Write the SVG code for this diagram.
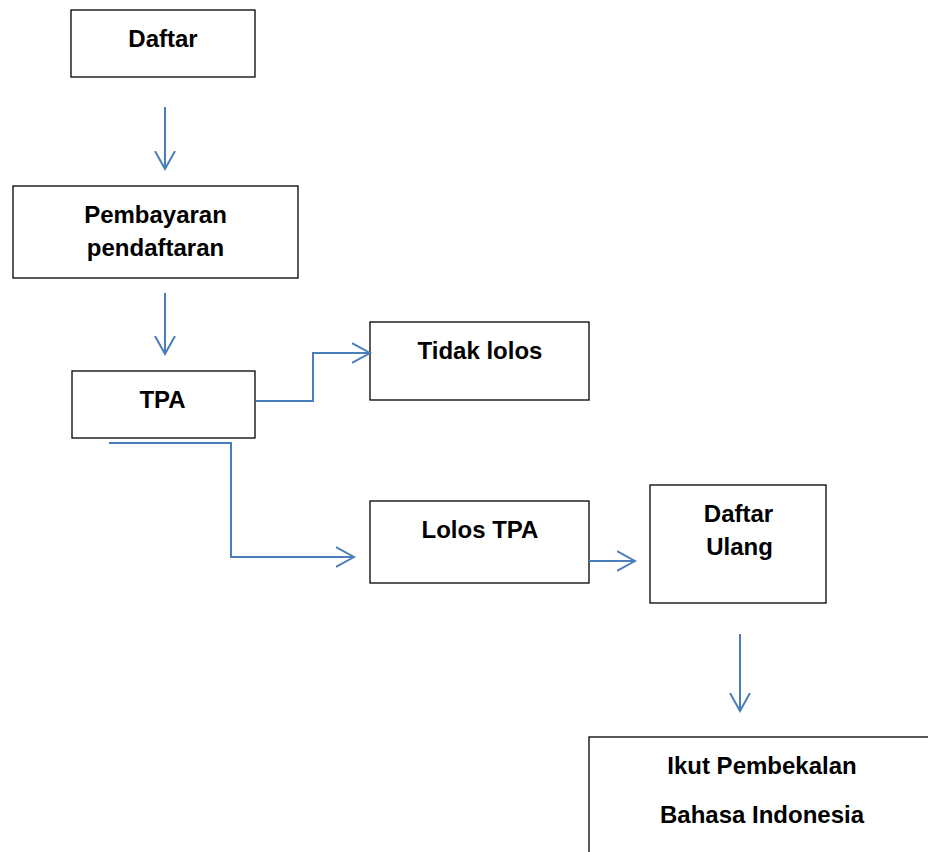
<svg xmlns="http://www.w3.org/2000/svg" width="928" height="852" viewBox="0 0 928 852">
<style>
.box{fill:#fff;stroke:#000;stroke-width:1.3}
.lbl{font-family:"Liberation Sans",Arial,sans-serif;font-weight:bold;font-size:24px;fill:#000;text-anchor:middle}
.con{fill:none;stroke:#4A7EBB;stroke-width:2}
</style>
<defs>
<marker id="arr" viewBox="0 0 20 22" refX="18" refY="11" markerWidth="20" markerHeight="22" orient="auto" markerUnits="userSpaceOnUse">
<path d="M0,1 L18,11 L0,21" fill="none" stroke="#4A7EBB" stroke-width="2"/>
</marker>
</defs>
<rect width="928" height="852" fill="#fff"/>
<g id="n-daftar"><rect class="box" x="71" y="10" width="184" height="67"/><text class="lbl" x="163" y="47">Daftar</text></g>
<g id="n-pembayaran"><rect class="box" x="13" y="186" width="285" height="92"/><text class="lbl" x="155.5" y="223">Pembayaran</text><text class="lbl" x="155.5" y="256">pendaftaran</text></g>
<g id="n-tpa"><rect class="box" x="72" y="371" width="183" height="67"/><text class="lbl" x="162.5" y="408">TPA</text></g>
<g id="n-tidak"><rect class="box" x="370" y="322" width="219" height="78"/><text class="lbl" x="480" y="359">Tidak lolos</text></g>
<g id="n-lolos"><rect class="box" x="370" y="501" width="219" height="82"/><text class="lbl" x="480" y="538">Lolos TPA</text></g>
<g id="n-daftarulang"><rect class="box" x="650" y="485" width="176" height="118"/><text class="lbl" x="738.5" y="522">Daftar</text><text class="lbl" x="739.5" y="555">Ulang</text></g>
<g id="n-ikut"><rect class="box" x="589" y="737" width="346" height="130"/><text class="lbl" x="762" y="774">Ikut Pembekalan</text><text class="lbl" x="762" y="823">Bahasa Indonesia</text></g>
<g id="connectors">
<path class="con" d="M165,107 V169" marker-end="url(#arr)"/>
<path class="con" d="M165,293 V354" marker-end="url(#arr)"/>
<path class="con" d="M256,401 H313 V353 H370" marker-end="url(#arr)"/>
<path class="con" d="M109,443 H231 V557 H354" marker-end="url(#arr)"/>
<path class="con" d="M589,561 H635" marker-end="url(#arr)"/>
<path class="con" d="M740,634 V711" marker-end="url(#arr)"/>
</g>
</svg>
